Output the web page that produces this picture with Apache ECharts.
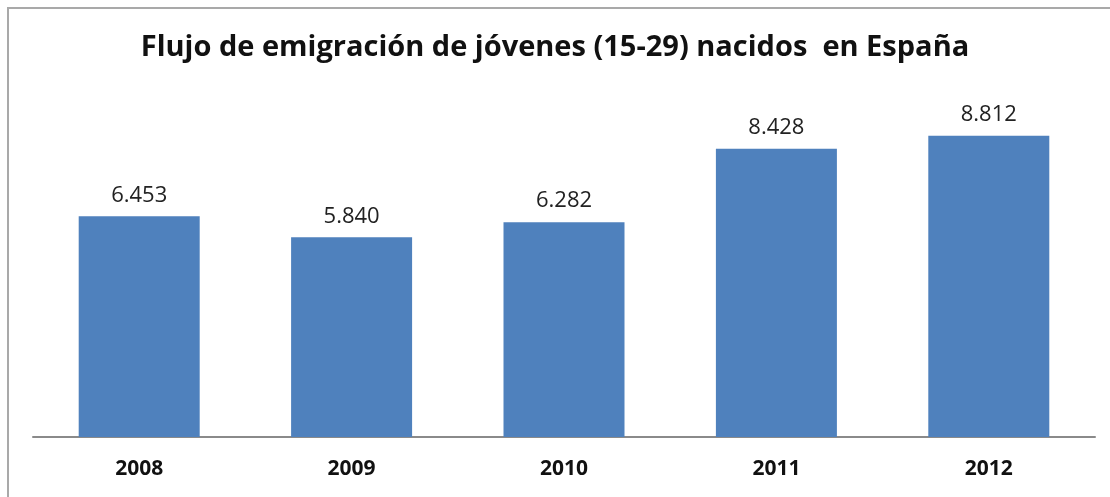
<!DOCTYPE html>
<html>
<head>
<meta charset="utf-8">
<script src="https://cdn.jsdelivr.net/npm/echarts@6/dist/echarts.min.js"></script>
<style>
  html, body { margin: 0; padding: 0; background: #fff; }
  #chart { width: 1110px; height: 497px; }
</style>
</head>
<body>
<div id="chart"></div>
<script>
// datos del grafico
const years = ['2008', '2009', '2010', '2011', '2012']
const emigrants = [6453, 5840, 6282, 8428, 8812]
const chartTitle = 'Flujo de emigración de jóvenes (15-29) nacidos  en España'

// 8812 -> 8.812
const fmtThousands = (v) => String(v).replace(/\B(?=(\d{3})+(?!\d))/g, '.')

const chart = echarts.init(document.getElementById('chart'))
chart.setOption({
  animation: false,
  backgroundColor: '#fff',
  textStyle: { fontFamily: 'Open Sans' },
  title: {
    text: chartTitle,
    left: 'center',
    top: 28,
    textStyle: {
      fontFamily: 'Open Sans',
      fontSize: 29,
      fontWeight: 'bold',
      color: '#111'
    }
  },
  graphic: [
    {
      type: 'rect',
      shape: { x: 8, y: 8, width: 1200, height: 600 },
      style: { fill: 'none', stroke: '#a9a9a9', lineWidth: 2 },
      silent: true
    }
  ],
  grid: {
    left: 33,
    right: 15,
    top: 95,
    bottom: 60
  },
  xAxis: {
    type: 'category',
    data: years,
    axisLine: { lineStyle: { color: '#8a8a8a', width: 2 } },
    axisTick: { show: false },
    axisLabel: {
      margin: 22,
      fontSize: 21,
      fontWeight: 'bold',
      color: '#111',
      fontFamily: 'Open Sans'
    }
  },
  yAxis: {
    type: 'value',
    min: 0,
    max: 10000,
    show: false,
    splitLine: { show: false }
  },
  series: [
    {
      type: 'bar',
      data: emigrants,
      barWidth: 121,
      itemStyle: { color: '#4f81bd' },
      label: {
        show: true,
        position: 'top',
        distance: 10,
        fontSize: 22,
        color: '#222',
        fontFamily: 'Open Sans',
        formatter: (p) => fmtThousands(p.value)
      }
    }
  ]
})
</script>
</body>
</html>
